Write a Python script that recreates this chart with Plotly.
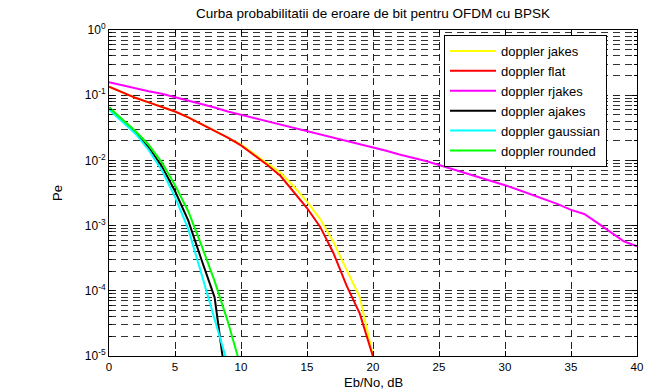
import plotly.graph_objects as go

# Eb/No (dB) sample points
ebno = list(range(0, 41))

# Bit error probability per Doppler model
pe_jakes = [0.135, 0.110, 0.0912, 0.0776, 0.0661, 0.0562, 0.0457, 0.0363, 0.0288, 0.0224,
            0.0174, 0.0126, 0.00912, 0.00646, 0.00398, 0.00234, 0.00126, 0.000562, 0.000209,
            0.0000794, 0.0000100]
pe_flat = [0.135, 0.110, 0.0912, 0.0776, 0.0661, 0.0562, 0.0457, 0.0363, 0.0288, 0.0224,
           0.0170, 0.0120, 0.00851, 0.00575, 0.00331, 0.00186, 0.000955, 0.000380, 0.000120,
           0.0000447, 0.0000098]
pe_rjakes = [0.158, 0.141, 0.129, 0.115, 0.105, 0.0933, 0.0832, 0.0741, 0.0646, 0.0562,
             0.0501, 0.0447, 0.0398, 0.0355, 0.0316, 0.0285, 0.0251, 0.0224, 0.0200, 0.0178,
             0.0158, 0.0141, 0.0123, 0.0110, 0.00977, 0.00851, 0.00741, 0.00646, 0.00562,
             0.00490, 0.00417, 0.00355, 0.00302, 0.00257, 0.00214, 0.00174, 0.00151, 0.00110,
             0.000794, 0.000575, 0.000479]
pe_ajakes = [0.0646, 0.0417, 0.0269, 0.0158, 0.00813, 0.00339, 0.00120, 0.000302, 0.0000794,
             0.0000025]
pe_gaussian = [0.0603, 0.0398, 0.0257, 0.0145, 0.00708, 0.00275, 0.000891, 0.000182,
               0.0000380, 0.0000074]
pe_rounded = [0.0646, 0.0427, 0.0282, 0.0174, 0.00933, 0.00417, 0.00166, 0.000501, 0.000141,
              0.0000339, 0.0000066]

series = [
    ("doppler jakes", pe_jakes, "#FFFF00"),
    ("doppler flat", pe_flat, "#FF0000"),
    ("doppler rjakes", pe_rjakes, "#FF00FF"),
    ("doppler ajakes", pe_ajakes, "#000000"),
    ("doppler gaussian", pe_gaussian, "#00FFFF"),
    ("doppler rounded", pe_rounded, "#00FF00"),
]

title_text = "Curba probabilitatii de eroare de bit pentru OFDM cu BPSK"
x_label = "Eb/No, dB"
y_label = "Pe"

y_tickvals = [1e-5, 1e-4, 1e-3, 1e-2, 1e-1, 1e0]
y_ticktext = ["10<sup>-5</sup>", "10<sup>-4</sup>", "10<sup>-3</sup>",
              "10<sup>-2</sup>", "10<sup>-1</sup>", "10<sup>0</sup>"]
x_tickvals = [0, 5, 10, 15, 20, 25, 30, 35, 40]

minor_vals = [m * 10.0 ** e for e in range(-5, 0) for m in range(2, 10)]

fig = go.Figure()
for name, vals, color in series:
    fig.add_trace(go.Scatter(x=ebno[:len(vals)], y=vals, mode="lines", name=name,
                             line=dict(color=color, width=2), cliponaxis=True))

font = "Liberation Sans, Arial, Helvetica, sans-serif"
grid_dash = "7px,5px"

W, H = 655, 392
L, R, T, B = 109, 18, 30, 36
fig.update_layout(
    width=W, height=H,
    margin=dict(l=L, r=R, t=T, b=B, autoexpand=False),
    paper_bgcolor="white", plot_bgcolor="white",
    font=dict(family=font, size=12, color="black"),
    title=dict(text=title_text,
               x=(L + W - R) / 2 / W, xanchor="center",
               y=1 - 13 / H, yanchor="middle", yref="container",
               font=dict(size=13.5, family=font, color="black")),
    showlegend=True,
    legend=dict(x=(444 - L) / (W - L - R), y=(H - B - 35) / (H - T - B),
                xanchor="left", yanchor="top",
                bgcolor="white", bordercolor="black", borderwidth=1,
                font=dict(size=13, family=font), itemwidth=46,
                tracegroupgap=0),
    annotations=[
        dict(text=x_label, xref="paper", yref="paper", x=0.5, y=0,
             xanchor="center", yanchor="top", yshift=-17, showarrow=False,
             font=dict(size=13, family=font, color="black")),
        dict(text=y_label, xref="paper", yref="paper", x=0, y=0.5,
             xanchor="center", yanchor="middle", xshift=-52, textangle=-90,
             showarrow=False, font=dict(size=13, family=font, color="black")),
    ],
)

fig.update_xaxes(
    range=[0, 40], tickvals=x_tickvals, ticks="inside", ticklen=5, tickcolor="black",
    showline=True, linecolor="black", linewidth=1, mirror="allticks",
    showgrid=True, gridcolor="#222222", griddash=grid_dash, gridwidth=1,
    zeroline=False, automargin=False,
    tickfont=dict(size=11.5, family=font),
)
fig.update_yaxes(
    type="log", range=[-5, 0], tickvals=y_tickvals, ticktext=y_ticktext,
    ticks="inside", ticklen=5, tickcolor="black",
    showline=True, linecolor="black", linewidth=1, mirror="allticks",
    showgrid=True, gridcolor="#222222", griddash=grid_dash, gridwidth=1,
    zeroline=False, automargin=False,
    minor=dict(tickvals=minor_vals, ticks="inside", ticklen=3, tickcolor="black",
               showgrid=True, gridcolor="#333333", griddash=grid_dash, gridwidth=1),
    tickfont=dict(size=12, family=font),
)

fig.write_html(
    "out.html",
    config={"displayModeBar": False},
    post_script="document.body.style.margin='0';document.body.style.overflow='hidden';",
)
